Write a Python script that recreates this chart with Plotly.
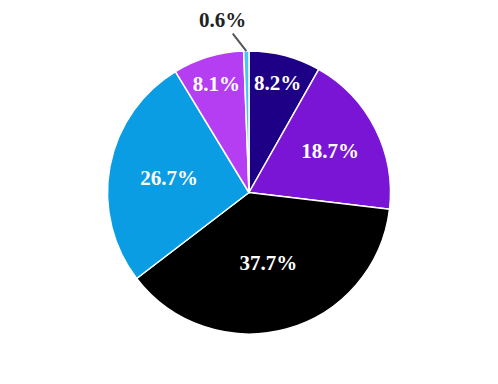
import math
import plotly.graph_objects as go

labels = ["A", "B", "C", "D", "E", "F"]
values = [8.2, 18.7, 37.7, 26.7, 8.1, 0.6]
colors = ["#1d0085", "#7a15d6", "#000000", "#0a9de3", "#b53ef2", "#4cc4f2"]
inside = ["inside", "inside", "inside", "inside", "inside", "none"]

FONT = "Liberation Serif, Times New Roman, serif"
W, H = 498, 384
ml, mr, mt, mb = 80, 80, 51, 50

fig = go.Figure(go.Pie(
    labels=labels, values=values, sort=False, direction="clockwise", rotation=0,
    marker=dict(colors=colors, line=dict(color="white", width=1.5)),
    texttemplate="<b>%{value:.1f}%</b>", textposition=inside,
    insidetextfont=dict(family=FONT, size=21, color="white"),
    insidetextorientation="horizontal",
    showlegend=False, hoverinfo="label+value",
))

# annotation for the tiny slice, placed from its data angle
total = sum(values)
cum = sum(values[:-1]) + values[-1] / 2
ang = cum / total * 2 * math.pi
pw, ph = W - ml - mr, H - mt - mb
r = min(pw, ph) / 2
tipx = 0.5 + math.sin(ang) * r / pw
tipy = 0.5 + math.cos(ang) * r / ph
fig.add_annotation(
    x=tipx, y=tipy, xref="paper", yref="paper",
    text=f"<b>{values[-1]:.1f}%</b>", showarrow=True, arrowhead=0,
    arrowwidth=2, arrowcolor="#555555", ax=-24, ay=-31,
    font=dict(family=FONT, size=21, color="#222222"),
)

fig.update_layout(
    width=W, height=H, margin=dict(l=ml, r=mr, t=mt, b=mb),
    paper_bgcolor="white", plot_bgcolor="white",
)
fig.write_html("out.html")
